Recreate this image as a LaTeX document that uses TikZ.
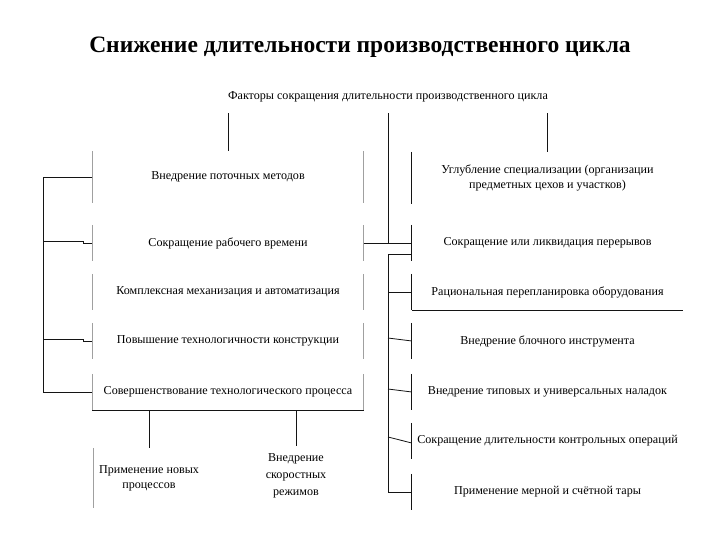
\documentclass[tikz,border=0pt]{standalone}
\usepackage{fontspec}
\setmainfont{Liberation Serif}
\usetikzlibrary{positioning,calc}
\definecolor{edgegrey}{RGB}{160,160,160}
\definecolor{linkblack}{RGB}{20,20,20}

\begin{document}
\begin{tikzpicture}[
                x=1pt, y=-1pt,
                headline/.style={font=\fontsize{23.5}{28}\selectfont\bfseries, inner sep=0pt},
                factor/.style={rectangle, inner sep=0pt, align=center, font=\fontsize{12.1}{15}\selectfont},
                colbox/.style={factor, minimum width=271pt, minimum height=36pt},
                subbox/.style={factor, minimum width=112pt, minimum height=60pt},
                link/.style={draw=linkblack, line width=0.8pt},
                side/.style={draw=edgegrey, line width=0.6pt}
                ]
                \useasboundingbox (0,0) rectangle (720,540);

                \node[headline] (title) at (360,47) {Снижение длительности производственного цикла};
                \node[factor, minimum height=32pt] (root) at (388,97) {Факторы сокращения длительности производственного цикла};

                % left column
                \node[colbox, minimum height=52pt] (l1) at (228,177) {Внедрение поточных методов};
                \node[colbox] (l2) at (228,243) {Сокращение рабочего времени};
                \node[colbox] (l3) at (228,292) {Комплексная механизация и автоматизация};
                \node[colbox] (l4) at (228,341) {Повышение технологичности конструкции};
                \node[colbox] (l5) at (228,392) {Совершенствование технологического процесса};

                % right column
                \node[colbox, minimum height=52pt] (r1) at (547.5,178) {Углубление специализации (организации\\предметных цехов и участков)};
                \node[colbox] (r2) at (547.5,243) {Сокращение или ликвидация перерывов};
                \node[colbox] (r3) at (547.5,292) {Рациональная перепланировка оборудования};
                \node[colbox] (r4) at (547.5,341) {Внедрение блочного инструмента};
                \node[colbox] (r5) at (547.5,392) {Внедрение типовых и универсальных наладок};
                \node[colbox] (r6) at (547.5,441) {Сокращение длительности контрольных операций};
                \node[colbox] (r7) at (547.5,492) {Применение мерной и счётной тары};

                % under the last left box
                \node[subbox] (b1) at (149,478) {Применение новых\\процессов};
                \node[subbox] (b2) at (296,476) {Внедрение\\[2pt]скоростных\\[2pt]режимов};

                % faint box sides
                \foreach \n in {l1,l2,l3,l4,l5} {
                    \draw[side] (\n.north west) -- (\n.south west);
                    \draw[side] (\n.north east) -- (\n.south east);
                }
                \foreach \n in {r1,r2,r3,r4,r5,r6,r7} {
                    \draw[link, line width=0.7pt] (\n.north west) -- (\n.south west);
                }
                \draw[side] (b1.north west) -- (b1.south west);
                \draw[link] (l5.south west) -- (l5.south east);
                \draw[link] (r3.south west) -- (r3.south east);

                % from the heading factor
                \draw[link] (l1.north |- root.south) -- (l1.north);
                \draw[link] (r1.north |- root.south) -- (r1.north);
                \draw[link] (root.south) -- (root.south |- l2.east);
                \draw[link] (l2.east) -- (r2.west);

                % left bracket
                \path (l1.west) ++(-49,0) coordinate (ltrunk);
                \draw[link] (l1.west) -- (ltrunk) -- (ltrunk |- l5.west) -- (l5.west);
                \draw[link] ($(ltrunk |- l2.west)+(0,-1.5)$) -| ($(l2.west)+(-9,0)$) -- (l2.west);
                \draw[link] ($(ltrunk |- l4.west)+(0,-1.5)$) -| ($(l4.west)+(-9,0)$) -- (l4.west);

                % right bracket
                \coordinate (rtrunk) at (388,254);
                \draw[link] (rtrunk -| r2.west) -- (rtrunk) -- (rtrunk |- r7.west) -- (r7.west);
                \draw[link] (rtrunk |- r3.west) -- (r3.west);
                \draw[link] ($(rtrunk |- r4.west)+(0,-3)$) -- (r4.west);
                \draw[link] ($(rtrunk |- r5.west)+(0,-3)$) -- (r5.west);
                \draw[link] ($(rtrunk |- r6.west)+(0,-4)$) -- ($(r6.west)+(0,2)$);

                % down to the sub-factors
                \draw[link] (b1.north |- l5.south) -- (b1.north);
                \draw[link] (b2.north |- l5.south) -- (b2.north);
            \end{tikzpicture}
\end{document}
